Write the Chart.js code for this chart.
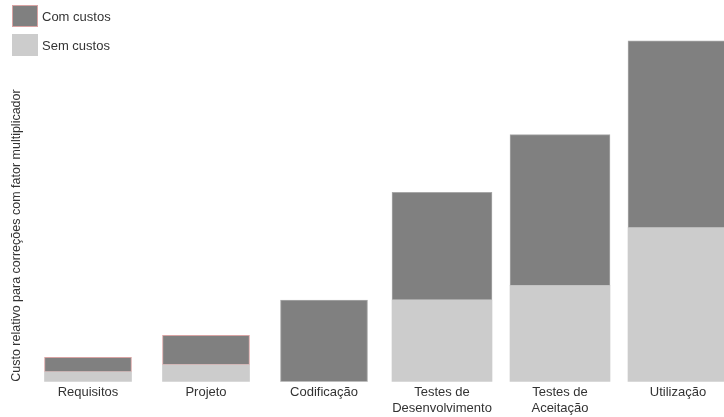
<!DOCTYPE html>
<html>
<head>
<meta charset="utf-8">
<script src="https://cdn.jsdelivr.net/npm/chart.js@4"></script>
<style>
  html, body { margin: 0; padding: 0; background: #fff; overflow: hidden; }
  #wrap { position: relative; width: 744px; height: 417px; overflow: hidden; }
  #legend { position: absolute; left: 12px; top: 5px; font: 13px "Liberation Sans", Arial, sans-serif; color: #333; }
  .item { display: flex; align-items: center; height: 22px; margin-bottom: 7px; }
  .swatch { width: 26px; height: 22px; box-sizing: border-box; margin-right: 4px; }
</style>
</head>
<body>
<div id="wrap">
  <canvas id="c" width="744" height="419"></canvas>
  <div id="legend"></div>
</div>
<script>
// Fases do ciclo de desenvolvimento
const categorias = ['Requisitos', 'Projeto', 'Codificação', ['Testes de', 'Desenvolvimento'], ['Testes de', 'Aceitação'], 'Utilização'];
// Custo relativo de correção, por fase
const semCustos = [2.9, 5.0, 0, 24.0, 28.2, 45.2];
const comCustos = [4.3, 8.6, 24.0, 31.6, 44.3, 54.8];
// Fases de teste e utilização usam barras mais largas
const fasesLargas = [false, false, false, true, true, true];

const nomes = { com: 'Com custos', sem: 'Sem custos' };
const corCom = '#808080';
const corSem = '#cccccc';
const bordaCom = (ctx) => (ctx.dataIndex < 2 ? '#d9a3a3' : '#a8a8a8');

const mascara = (valores, largas) => valores.map((v, i) => (fasesLargas[i] === largas ? v : null));

const datasets = [];
[false, true].forEach((largas) => {
  const espessura = largas ? 100 : 87;
  datasets.push({
    label: nomes.sem,
    data: mascara(semCustos, largas),
    backgroundColor: corSem,
    borderWidth: 0,
    barThickness: espessura,
    stack: 'total'
  });
  datasets.push({
    label: nomes.com,
    data: mascara(comCustos, largas),
    backgroundColor: corCom,
    borderColor: bordaCom,
    borderWidth: 1,
    borderSkipped: false,
    barThickness: espessura,
    stack: 'total'
  });
});

const fonte = { family: '"Liberation Sans", Arial, sans-serif', size: 13 };

const chart = new Chart(document.getElementById('c'), {
  type: 'bar',
  data: { labels: categorias, datasets },
  options: {
    responsive: false,
    animation: false,
    layout: { padding: { left: 5, right: 7, top: 0, bottom: 0 } },
    plugins: { legend: { display: false }, tooltip: { enabled: false } },
    datasets: { bar: { grouped: false } },
    scales: {
      x: {
        stacked: true,
        grid: { display: false, drawTicks: false },
        border: { display: false },
        ticks: { color: '#333', font: fonte, padding: 3, maxRotation: 0, autoSkip: false }
      },
      y: {
        stacked: true,
        min: 0,
        max: 112,
        grid: { display: false, drawTicks: false },
        border: { display: false },
        ticks: { display: false },
        title: {
          display: true,
          text: 'Custo relativo para correções com fator multiplicador',
          align: 'start',
          color: '#333',
          font: { family: fonte.family, size: 12.5 },
          padding: { top: 4, bottom: 5 }
        }
      }
    }
  }
});

// Legenda em coluna, com as cores das séries
const legenda = document.getElementById('legend');
[
  { nome: nomes.com, cor: corCom, borda: '#d9a3a3' },
  { nome: nomes.sem, cor: corSem, borda: corSem }
].forEach((s) => {
  const item = document.createElement('div');
  item.className = 'item';
  const sw = document.createElement('span');
  sw.className = 'swatch';
  sw.style.background = s.cor;
  sw.style.border = '1px solid ' + s.borda;
  const txt = document.createElement('span');
  txt.textContent = s.nome;
  item.appendChild(sw);
  item.appendChild(txt);
  legenda.appendChild(item);
});
</script>
</body>
</html>
